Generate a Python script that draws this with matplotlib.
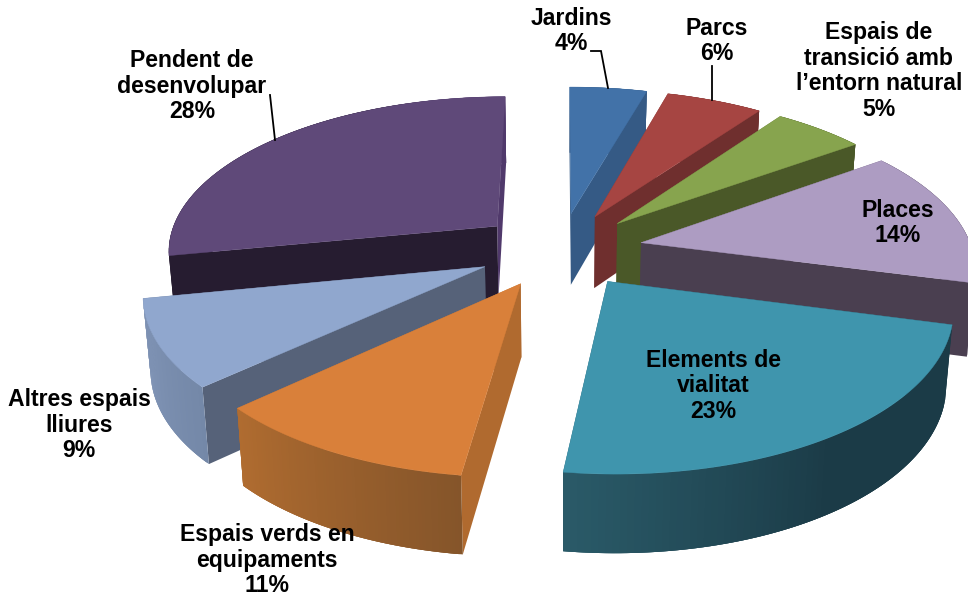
import numpy as np
import matplotlib
matplotlib.use("Agg")
import matplotlib.pyplot as plt
from matplotlib.patches import Polygon
from matplotlib.colors import to_rgb

categories = ["Jardins", "Parcs", "Espais de\ntransició amb\nl’entorn natural", "Places",
              "Elements de\nvialitat", "Espais verds en\nequipaments", "Altres espais\nlliures",
              "Pendent de\ndesenvolupar"]
values = [4.4, 5.5, 5.2, 14.0, 23.0, 11.0, 8.8, 28.1]

top_colors = ["#4272A8", "#A64542", "#87A44E", "#AD9CC2", "#3F95AD", "#D9803A", "#90A7CE", "#5F4979"]
start_face = ["#355A85", "#6F2F2E", "#4A5828", "#4A3F50", "#1B3B47", "#B06A2F", "#566279", "#261C30"]
end_face = ["#355A85", "#6F2F2E", "#4A5828", "#4A3F50", "#1B3B47", "#B06A2F", "#566279", "#50396B"]
arc_stops = [["#355A85"], ["#6F2F2E"], ["#4A5828"], ["#4A3F50"],
             ["#1B3B47", "#1B3B47", "#2A5A68"], ["#85552A", "#B06C30"],
             ["#7488A8", "#8296B8"], ["#261C30"] * 7 + ["#50396B"] * 2]
draw_order = [7, 0, 1, 2, 3, 6, 5, 4]
label_pos = [(571, 31), (717, 41), (879, 71), (898, 223), (713, 386), (267, 560), (79, 425), (192, 86)]

CX, CY, A, B, K, EXPL, EXPL_X = 560.0, 249.4, 331.0, 154.5, 0.145, 0.242, 1.035
D0, DK, SHRINK = 72.5, 0.076, 0.982


def project(X, Y, bottom=False):
    s = 1.0 / (1.0 + K * Y)
    x = A * X * s
    y = CY - B * Y * s
    if bottom:
        x = x * SHRINK
        y = y + D0 * (1 - DK * Y)
    return CX + x, y


def lerp_color(stops, t):
    rgb = np.array([to_rgb(c) for c in stops])
    if len(rgb) == 1:
        return tuple(rgb[0])
    p = t * (len(rgb) - 1)
    i = min(int(p), len(rgb) - 2)
    return tuple(rgb[i] + (rgb[i + 1] - rgb[i]) * (p - i))


fig = plt.figure(figsize=(9.68, 6.01), dpi=100)
ax = fig.add_axes([0, 0, 1, 1])
ax.set_xlim(0, 968)
ax.set_ylim(601, 0)
ax.axis("off")

edges = np.cumsum([0] + values) / sum(values) * 2 * np.pi

for order, i in enumerate(draw_order):
    a0, a1 = edges[i], edges[i + 1]
    mid = (a0 + a1) / 2
    ox, oy = EXPL * EXPL_X * np.sin(mid), EXPL * np.cos(mid)
    th = np.linspace(a0, a1, 81)
    Xs, Ys = ox + np.sin(th), oy + np.cos(th)
    tx, ty = project(Xs, Ys)
    bx, by = project(Xs, Ys, True)
    ax0, ay0 = project(ox, oy)
    ax1, ay1 = project(ox, oy, True)
    z = order + 1
    # radial faces
    for k, col in ((0, start_face[i]), (-1, end_face[i])):
        ax.add_patch(Polygon([(ax0, ay0), (tx[k], ty[k]), (bx[k], by[k]), (ax1, ay1)],
                             closed=True, fc=col, ec="none", zorder=z))
    # outer arc: overlapping quads so that no seams appear
    n = len(th)
    for j in range(n - 1):
        j2 = min(j + 3, n - 1)
        col = lerp_color(arc_stops[i], j / (n - 2))
        ax.add_patch(Polygon(np.vstack([np.column_stack([tx[j:j2 + 1], ty[j:j2 + 1]]),
                                        np.column_stack([bx[j:j2 + 1], by[j:j2 + 1]])[::-1]]),
                             closed=True, fc=col, ec="none", zorder=z))
    # top
    ax.add_patch(Polygon(np.vstack([[ax0, ay0], np.column_stack([tx, ty])]),
                         closed=True, fc=top_colors[i], ec=top_colors[i], lw=0.3, zorder=z))

# leader lines
for xs, ys in (([591, 601, 608], [51, 51, 88]), ([712, 712], [66, 100]), ([270, 275], [95, 140])):
    ax.plot(xs, ys, color="black", lw=1.3, zorder=20, solid_joinstyle="miter")

for name, v, (x, y) in zip(categories, values, label_pos):
    ax.text(x, y, f"{name}\n{round(v)}%", ha="center", va="center", fontsize=16.6,
            family="Liberation Sans", fontweight="bold", color="black", linespacing=1.15, zorder=30)

fig.savefig("out.png", dpi=100, facecolor="white")
